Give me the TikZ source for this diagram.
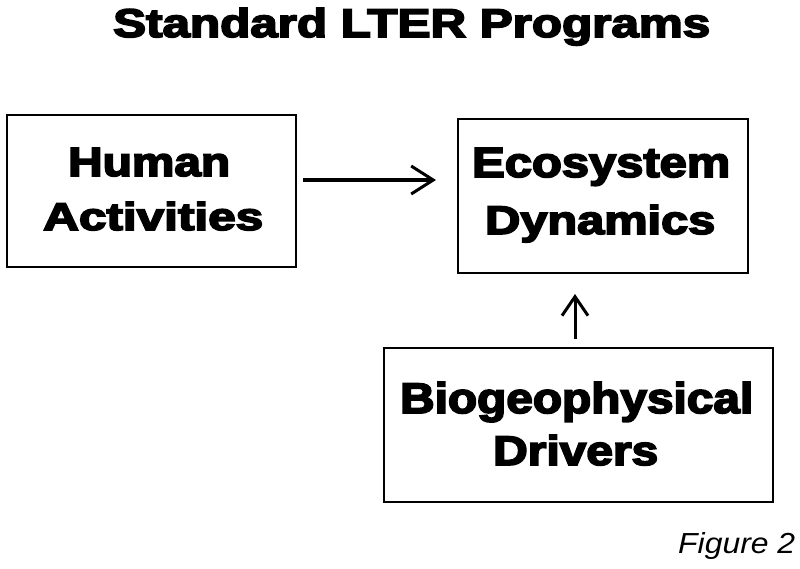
\documentclass[tikz,border=0pt]{standalone}
\usepackage{fontspec}
\usepackage{graphicx}
\usetikzlibrary{arrows.meta}
\newfontfamily\heavy[FakeBold=4]{Liberation Sans Bold}
\newfontfamily\figfont{Liberation Sans Italic}
\newcommand\fitline[3]{\resizebox{#1pt}{#2pt}{\heavy #3}}
\tikzset{
  box/.style={draw=black, line width=2pt, rectangle, inner sep=0pt},
  txt/.style={inner sep=0pt, anchor=base west},
  arr/.style={line width=3.2pt, -{Straight Barb[length=22pt,width=28pt,line width=3pt]}},
  varr/.style={line width=3pt, -{Straight Barb[length=19pt,width=26pt,line width=3pt]}}
}
\begin{document}
\begin{tikzpicture}[x=1pt,y=-1pt]
\useasboundingbox (0,0) rectangle (800,568);
\fill[white] (0,0) rectangle (800,568);
% title
\node[txt] (title) at (113,37) {\fitline{597}{29}{Standard LTER Programs}};
% boxes
\node[box, minimum width=289pt, minimum height=152pt] (human) at (151.5,191) {};
\node[box, minimum width=290pt, minimum height=154pt] (eco) at (603,196) {};
\node[box, minimum width=389pt, minimum height=154pt] (bio) at (578.5,425) {};
% box texts
\node[txt] (human1) at (68,176) {\fitline{162}{28}{Human}};
\node[txt] (human2) at (43,230) {\fitline{220}{28}{Activities}};
\node[txt] (eco1) at (472,177) {\fitline{258}{29}{Ecosystem}};
\node[txt] (eco2) at (485,234) {\fitline{230}{29}{Dynamics}};
\node[txt] (bio1) at (400,413) {\fitline{353}{31}{Biogeophysical}};
\node[txt] (bio2) at (493,465) {\fitline{165}{30}{Drivers}};
% figure label
\node[txt] (fig) at (678,553) {\resizebox{117pt}{21pt}{\figfont Figure 2}};
% connectors
\draw[arr, shorten <=6pt, shorten >=21pt] ([yshift=11pt]human.east) -- ([yshift=11pt]human.east -| eco.west);
\draw[varr, shorten <=8pt, shorten >=20pt] ([xshift=-3.5pt]bio.north) -- ([xshift=-3.5pt]bio.north |- eco.south);
\end{tikzpicture}
\end{document}
